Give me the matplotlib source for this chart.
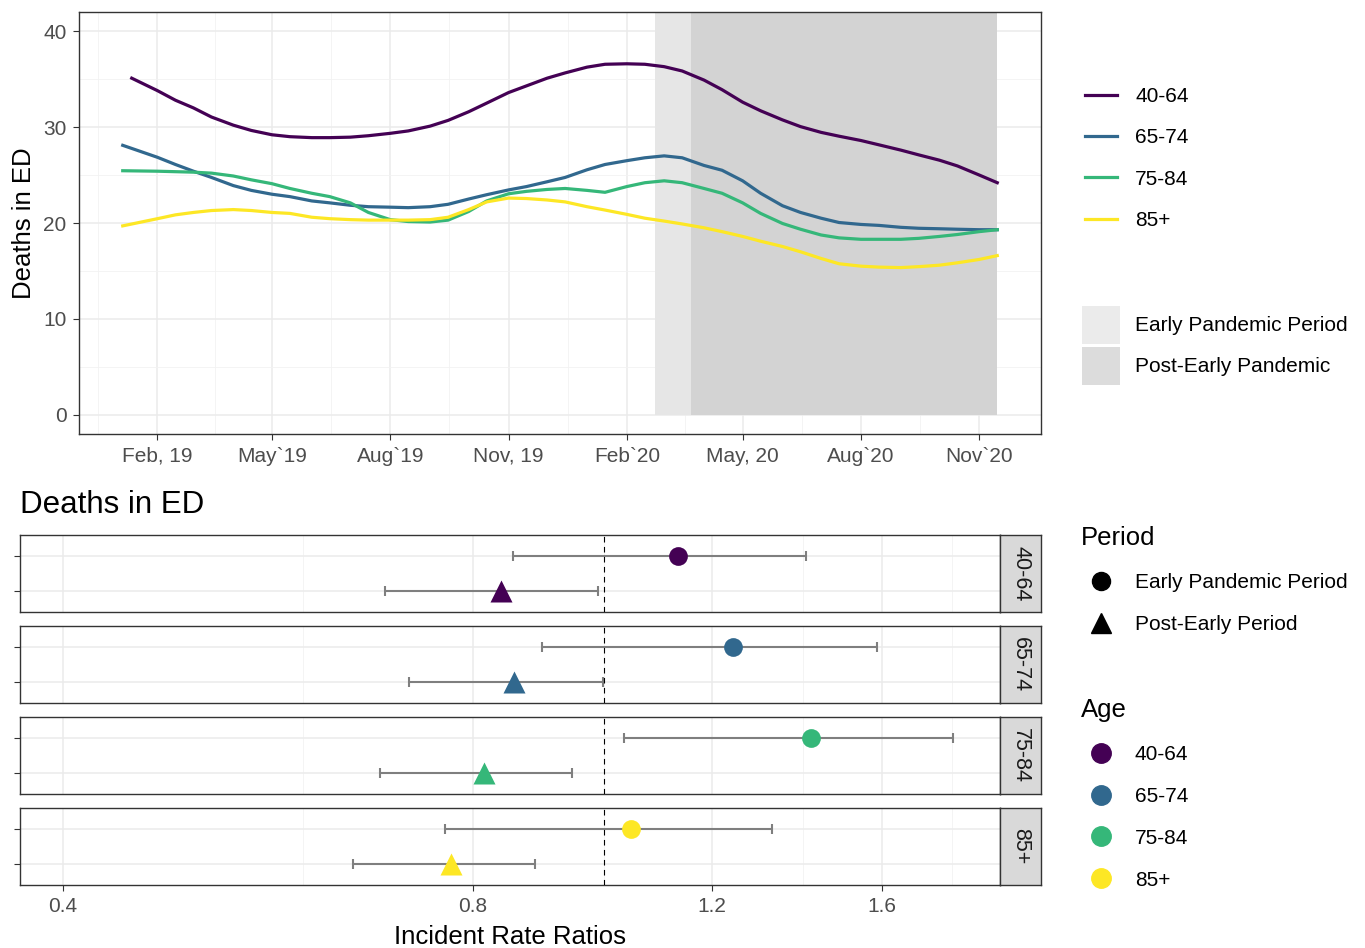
import matplotlib
matplotlib.use("Agg")
import matplotlib.pyplot as plt
from matplotlib.lines import Line2D
from matplotlib.patches import Patch
import pandas as pd

plt.rcParams['font.family'] = ['Liberation Sans', 'DejaVu Sans']

# ---- data: smoothed deaths in ED by age group (read on the 1st and 15th of each month) ----
ages = ['40-64', '65-74', '75-84', '85+']
age_colors = ['#440154', '#31688E', '#35B779', '#FDE725']

firsts = pd.date_range('2019-02-01', '2020-11-01', freq='MS')
semi_monthly = sorted(list(firsts) + list(firsts + pd.Timedelta(days=14)))
dates_main = [pd.Timestamp('2019-01-05')] + semi_monthly
dates_4064 = [pd.Timestamp('2019-01-12')] + semi_monthly

deaths_4064 = [35.1, 33.8, 32.8, 32.0, 31.05, 30.2, 29.65, 29.2, 29.0, 28.9, 28.9, 28.95,
               29.1, 29.35, 29.6, 30.1, 30.7, 31.6, 32.5, 33.6, 34.3, 35.1, 35.65, 36.25,
               36.55, 36.6, 36.55, 36.3, 35.85, 34.9, 33.9, 32.6, 31.7, 30.75, 30.05, 29.45,
               29.05, 28.6, 28.15, 27.6, 27.1, 26.55, 25.95, 25.0, 24.2]
deaths_6574 = [28.1, 26.85, 26.1, 25.4, 24.75, 23.9, 23.4, 23.0, 22.75, 22.3, 22.1, 21.85,
               21.7, 21.65, 21.6, 21.7, 21.95, 22.5, 22.95, 23.45, 23.8, 24.3, 24.75, 25.55,
               26.1, 26.5, 26.8, 27.0, 26.8, 26.0, 25.5, 24.4, 23.1, 21.8, 21.1, 20.5,
               20.05, 19.85, 19.75, 19.55, 19.45, 19.4, 19.35, 19.3, 19.3]
deaths_7584 = [25.45, 25.4, 25.35, 25.3, 25.2, 24.9, 24.5, 24.1, 23.6, 23.1, 22.75, 22.1,
               21.1, 20.35, 20.15, 20.1, 20.3, 21.2, 22.3, 23.05, 23.3, 23.5, 23.6, 23.4,
               23.2, 23.8, 24.2, 24.4, 24.2, 23.6, 23.1, 22.1, 21.0, 19.95, 19.35, 18.75,
               18.45, 18.3, 18.3, 18.3, 18.4, 18.6, 18.8, 19.1, 19.3]
deaths_85 = [19.7, 20.45, 20.85, 21.1, 21.3, 21.4, 21.3, 21.1, 21.0, 20.6, 20.45, 20.35,
             20.3, 20.3, 20.3, 20.35, 20.6, 21.4, 22.2, 22.6, 22.55, 22.4, 22.2, 21.7,
             21.35, 20.9, 20.5, 20.2, 19.9, 19.5, 19.1, 18.6, 18.1, 17.55, 17.0, 16.3,
             15.75, 15.5, 15.4, 15.35, 15.45, 15.6, 15.85, 16.2, 16.6]

early_start = pd.Timestamp('2020-02-23')
post_start = pd.Timestamp('2020-03-22')
period_end = pd.Timestamp('2020-11-15')

# ---- data: incident rate ratios ----
periods = ['Early Pandemic Period', 'Post-Early Period']
irr_early = [1.133, 1.243, 1.418, 1.046]
irr_early_lo = [0.856, 0.900, 1.034, 0.763]
irr_early_hi = [1.406, 1.586, 1.804, 1.328]
irr_post = [0.839, 0.858, 0.816, 0.771]
irr_post_lo = [0.690, 0.718, 0.684, 0.653]
irr_post_hi = [0.989, 0.998, 0.947, 0.889]

W, H = 1365, 948
fig = plt.figure(figsize=(W / 100, H / 100), dpi=100)


def frac(x0, y0, x1, y1):
    return [x0 / W, 1 - y1 / H, (x1 - x0) / W, (y1 - y0) / H]


border = '#333333'
grid_major = '#EBEBEB'
fs_tick = 15
fs_leg = 15
fs_title = 18.5

# ---------------- top panel ----------------
ax = fig.add_axes(frac(79, 12, 1041, 434))
ax.fill_between([early_start, post_start], 0, 42, color='#E6E6E6', lw=0, zorder=1)
ax.fill_between([post_start, period_end], 0, 42, color='#D3D3D3', lw=0, zorder=1)

series = [(dates_4064, deaths_4064), (dates_main, deaths_6574),
          (dates_main, deaths_7584), (dates_main, deaths_85)]
line_handles = []
for (d, v), c, lab in zip(series, age_colors, ages):
    h, = ax.plot(d, v, color=c, lw=2.3, label=lab, zorder=3, solid_joinstyle='round')
    line_handles.append(h)

ax.set_ylim(-2, 42)
ax.set_xlim(pd.Timestamp('2018-12-02'), pd.Timestamp('2020-12-19'))
ax.set_yticks([0, 10, 20, 30, 40])
ax.set_yticks([5, 15, 25, 35], minor=True)
tick_dates = pd.to_datetime(['2019-02-01', '2019-05-01', '2019-08-01', '2019-11-01',
                             '2020-02-01', '2020-05-01', '2020-08-01', '2020-11-01'])
tick_labels = ['Feb, 19', 'May`19', 'Aug`19', 'Nov, 19', 'Feb`20', 'May, 20', 'Aug`20', 'Nov`20']
ax.set_xticks(tick_dates)
ax.set_xticklabels(tick_labels)
minor_dates = pd.to_datetime(['2018-12-17', '2019-03-18', '2019-06-16', '2019-09-16',
                              '2019-12-17', '2020-03-17', '2020-06-16', '2020-09-16'])
ax.set_xticks(minor_dates, minor=True)
ax.grid(True, which='major', color=grid_major, lw=1.1, zorder=0)
ax.grid(True, which='minor', color='#F2F2F2', lw=0.6, zorder=0)
ax.set_axisbelow(True)
ax.tick_params(which='major', length=4, color=border, labelsize=fs_tick,
               labelcolor='#4D4D4D', pad=5)
ax.tick_params(which='minor', length=0)
for s in ax.spines.values():
    s.set_color(border)
    s.set_linewidth(1.0)
ax.set_ylabel('Deaths in ED', fontsize=fs_title, labelpad=5)

fig.legend(handles=line_handles, labels=ages, loc='upper left',
           bbox_to_anchor=(1085 / W, 1 - 87 / H), frameon=False, fontsize=fs_leg,
           handlelength=1.54, handletextpad=0.86, labelspacing=1.07,
           borderpad=0, borderaxespad=0)

shade_handles = [Patch(facecolor='#EBEBEB', edgecolor='none'),
                 Patch(facecolor='#DCDCDC', edgecolor='none')]
fig.legend(handles=shade_handles, labels=['Early Pandemic Period', 'Post-Early Pandemic'],
           loc='upper left', bbox_to_anchor=(1082 / W, 1 - 306 / H), frameon=False,
           fontsize=fs_leg, handlelength=1.82, handleheight=2.43, handletextpad=0.72,
           labelspacing=0.14, borderpad=0, borderaxespad=0)

# ---------------- bottom facets ----------------
panel_tops = [535, 626, 717, 808]
panel_h = 77
for i, age in enumerate(ages):
    t = panel_tops[i]
    a = fig.add_axes(frac(20, t, 1000, t + panel_h))
    # Early period at y=1, Post-Early at y=0
    a.errorbar([irr_early[i]], [1],
               xerr=[[irr_early[i] - irr_early_lo[i]], [irr_early_hi[i] - irr_early[i]]],
               fmt='none', ecolor='#7F7F7F', elinewidth=1.5, capsize=3.5, capthick=1.5, zorder=2)
    a.errorbar([irr_post[i]], [0],
               xerr=[[irr_post[i] - irr_post_lo[i]], [irr_post_hi[i] - irr_post[i]]],
               fmt='none', ecolor='#7F7F7F', elinewidth=1.5, capsize=3.5, capthick=1.5, zorder=2)
    a.plot([irr_early[i]], [1], 'o', color=age_colors[i], ms=13.5, mec='none', zorder=4)
    a.plot([irr_post[i]], [0], '^', color=age_colors[i], ms=16, mec='none', zorder=4)
    a.axvline(1.0, color='black', lw=0.8, ls=(0, (5, 4)), zorder=3)

    a.set_xscale('log')
    a.set_xlim(0.372, 1.953)
    a.set_ylim(-0.6, 1.6)
    a.set_xticks([0.4, 0.8, 1.2, 1.6])
    a.set_xticks([0.6, 1.0, 1.4, 1.8], minor=True)
    a.set_yticks([0, 1])
    a.set_yticklabels(['', ''])
    a.grid(True, which='major', color=grid_major, lw=1.1, zorder=0)
    a.grid(True, which='minor', axis='x', color='#F2F2F2', lw=0.6, zorder=0)
    a.set_axisbelow(True)
    a.tick_params(axis='y', length=4, color=border)
    a.tick_params(axis='x', which='minor', length=0, labelbottom=False)
    if i < 3:
        a.tick_params(axis='x', which='major', length=0, labelbottom=False)
    else:
        a.set_xticklabels(['0.4', '0.8', '1.2', '1.6'])
        a.tick_params(axis='x', which='major', length=4, color=border,
                      labelsize=fs_tick, labelcolor='#4D4D4D', pad=5)
        a.set_xlabel('Incident Rate Ratios', fontsize=fs_title, labelpad=6)
    for s in a.spines.values():
        s.set_color(border)
        s.set_linewidth(1.0)

    st = fig.add_axes(frac(1000, t, 1041, t + panel_h))
    st.set_facecolor('#D9D9D9')
    st.set_xticks([])
    st.set_yticks([])
    for s in st.spines.values():
        s.set_color(border)
        s.set_linewidth(1.0)
    st.text(0.5, 0.5, age, rotation=270, ha='center', va='center', fontsize=15.5,
            color='#1A1A1A', transform=st.transAxes)

fig.text(20 / W, 1 - 505 / H, 'Deaths in ED', fontsize=22.5, ha='left', va='center')

period_handles = [Line2D([], [], marker='o', ls='none', color='black', ms=13),
                  Line2D([], [], marker='^', ls='none', color='black', ms=15)]
fig.legend(handles=period_handles, labels=periods, title='Period', loc='upper left',
           bbox_to_anchor=(1081 / W, 1 - 526 / H), frameon=False, fontsize=fs_leg,
           title_fontsize=fs_title, alignment='left', handlelength=1.92, handletextpad=0.67,
           labelspacing=1.1, borderpad=0, borderaxespad=0)

age_handles = [Line2D([], [], marker='o', ls='none', color=c, ms=14) for c in age_colors]
fig.legend(handles=age_handles, labels=ages, title='Age', loc='upper left',
           bbox_to_anchor=(1081 / W, 1 - 698 / H), frameon=False, fontsize=fs_leg,
           title_fontsize=fs_title, alignment='left', handlelength=1.92, handletextpad=0.67,
           labelspacing=1.1, borderpad=0, borderaxespad=0)

fig.savefig('out.png', dpi=100)
